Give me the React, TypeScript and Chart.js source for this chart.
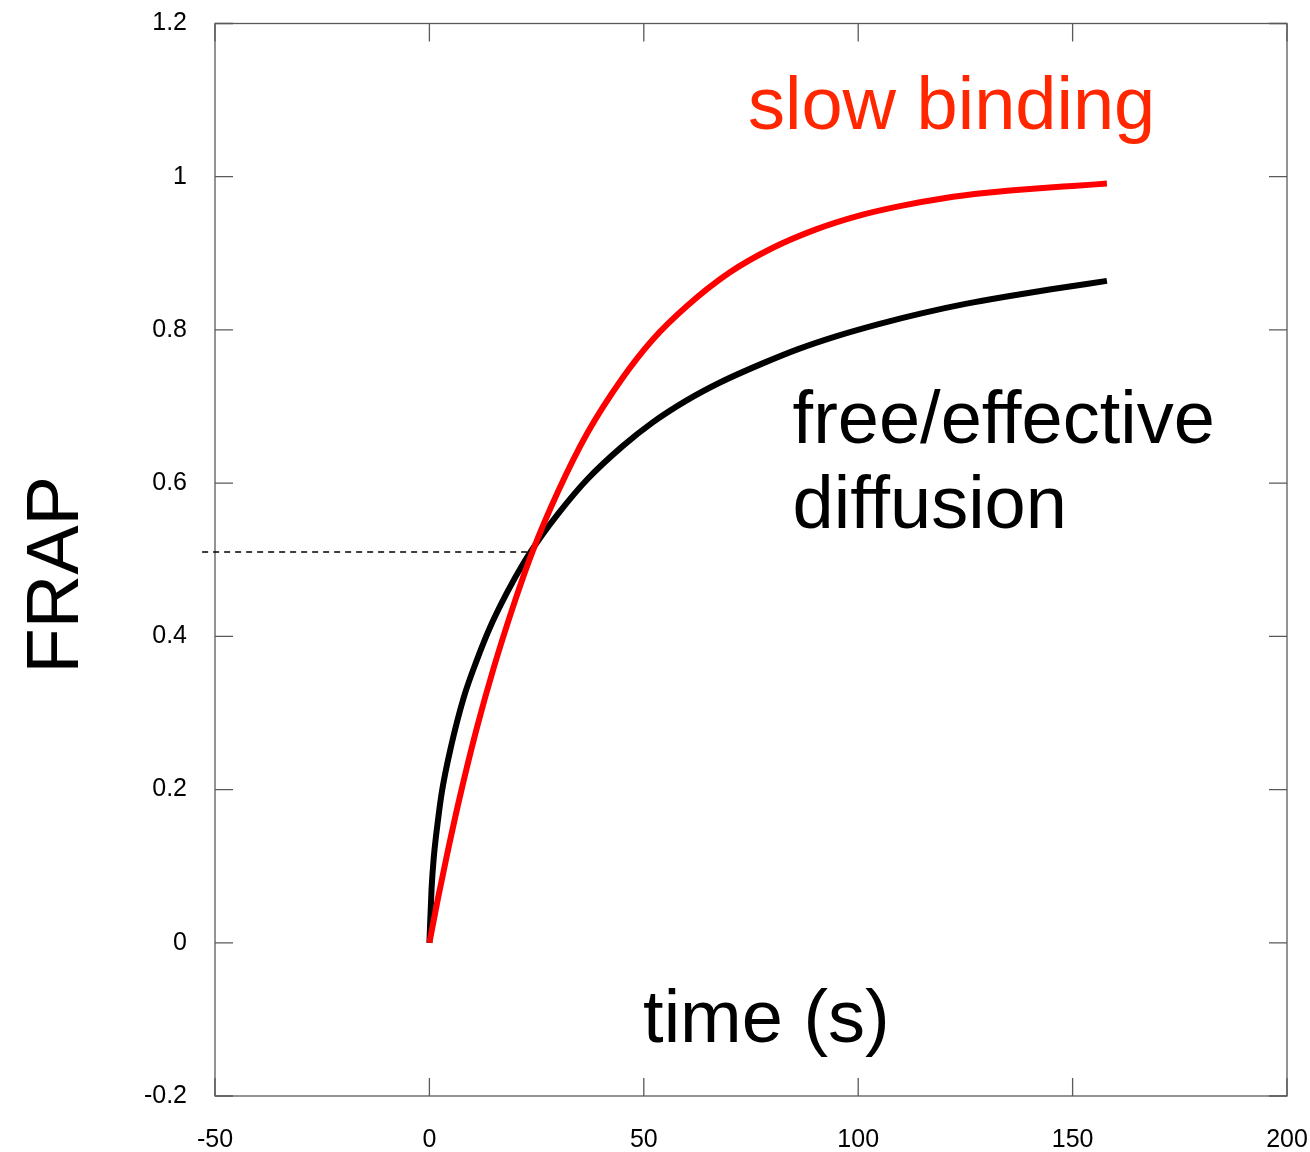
import React, { useEffect, useRef } from "react";
import { Chart, registerables } from "chart.js";

Chart.register(...registerables);

// ---- data ----
const redTimes = [0, 2, 4, 7, 11, 15, 20, 24, 30, 37, 45, 52, 60, 70, 80, 90, 100, 110, 120, 130, 140, 150, 158];
const redValues = [0, 0.058, 0.112, 0.188, 0.279, 0.359, 0.447, 0.51, 0.589, 0.667, 0.737, 0.787, 0.831, 0.875, 0.907, 0.931, 0.949, 0.962, 0.972, 0.979, 0.984, 0.988, 0.991];

const blackTimes = [0, 0.5, 1, 2, 3, 5, 8, 11, 14, 18, 22, 26, 30, 37, 45, 52, 60, 68, 78, 86, 95, 105, 115, 125, 135, 145, 158];
const blackValues = [0, 0.07, 0.11, 0.16, 0.2, 0.255, 0.32, 0.368, 0.41, 0.456, 0.496, 0.53, 0.56, 0.606, 0.648, 0.679, 0.708, 0.732, 0.757, 0.775, 0.792, 0.808, 0.822, 0.834, 0.844, 0.853, 0.864];

const halfTimes = [-53, 23];
const halfValues = [0.51, 0.51];

const xTicks = [-50, 0, 50, 100, 150, 200];
const xTickLabels = ["-50", "0", "50", "100", "150", "200"];
const yTicks = [-0.2, 0, 0.2, 0.4, 0.6, 0.8, 1, 1.2];
const yTickLabels = ["-0.2", "0", "0.2", "0.4", "0.6", "0.8", "1", "1.2"];

const slowLabel = "slow binding";
const freeLabel = ["free/effective", "diffusion"];
const xTitle = "time (s)";
const yTitle = "FRAP";

const FONT = '"Liberation Sans", Arial, Helvetica, sans-serif';

const framePlugin = {
  id: "frame",
  beforeDatasetsDraw(chart: any) {
    const { ctx, chartArea, scales } = chart;
    const { left, right, top, bottom } = chartArea;
    const x = scales.x;
    const y = scales.y;
    const L = 18;
    ctx.save();
    ctx.strokeStyle = "#5a5a5a";
    ctx.lineWidth = 1.3;
    ctx.strokeRect(left, top, right - left, bottom - top);
    ctx.beginPath();
    xTicks.forEach((v) => {
      const px = x.getPixelForValue(v);
      ctx.moveTo(px, bottom);
      ctx.lineTo(px, bottom - L);
      ctx.moveTo(px, top);
      ctx.lineTo(px, top + L);
    });
    yTicks.forEach((v) => {
      const py = y.getPixelForValue(v);
      ctx.moveTo(left, py);
      ctx.lineTo(left + L, py);
      ctx.moveTo(right, py);
      ctx.lineTo(right - L, py);
    });
    ctx.stroke();
    ctx.restore();
  },
};

const textPlugin = {
  id: "texts",
  afterDraw(chart: any) {
    const { ctx, scales } = chart;
    const x = scales.x;
    const y = scales.y;
    ctx.save();
    ctx.font = `74px ${FONT}`;
    ctx.textBaseline = "alphabetic";
    ctx.textAlign = "left";
    ctx.fillStyle = "#ff2600";
    ctx.fillText(slowLabel, x.getPixelForValue(74.3), y.getPixelForValue(1.062));
    ctx.fillStyle = "#000000";
    ctx.fillText(freeLabel[0], x.getPixelForValue(84.7), y.getPixelForValue(0.653));
    ctx.fillText(freeLabel[1], x.getPixelForValue(84.7), y.getPixelForValue(0.542));
    ctx.textAlign = "center";
    ctx.fillText(xTitle, x.getPixelForValue(78.6), y.getPixelForValue(-0.129));
    ctx.translate(78, (chart.chartArea.top + chart.chartArea.bottom) / 2 + 15);
    ctx.rotate(-Math.PI / 2);
    ctx.fillText(yTitle, 0, 0);
    ctx.restore();
  },
};

const zeroPad = (s: any) => {
  s.paddingLeft = 0;
  s.paddingRight = 0;
  s.paddingTop = 0;
  s.paddingBottom = 0;
};

export default function App() {
  const canvasRef = useRef<HTMLCanvasElement | null>(null);

  useEffect(() => {
    const canvas = canvasRef.current;
    if (!canvas) return;
    const tickFont = { family: FONT, size: 25 };
    const chart = new Chart(canvas, {
      type: "line",
      data: {
        datasets: [
          {
            label: "slow binding",
            data: redTimes.map((t, i) => ({ x: t, y: redValues[i] })),
            borderColor: "#ff0000",
            borderWidth: 6,
            pointRadius: 0,
            cubicInterpolationMode: "monotone",
            fill: false,
          },
          {
            label: "free/effective diffusion",
            data: blackTimes.map((t, i) => ({ x: t, y: blackValues[i] })),
            borderColor: "#000000",
            borderWidth: 6,
            pointRadius: 0,
            cubicInterpolationMode: "monotone",
            fill: false,
          },
          {
            label: "half",
            data: halfTimes.map((t, i) => ({ x: t, y: halfValues[i] })),
            borderColor: "#000000",
            borderWidth: 1.5,
            borderDash: [6, 5],
            pointRadius: 0,
            fill: false,
            clip: false as any,
          },
        ],
      },
      options: {
        animation: false,
        responsive: false,
        devicePixelRatio: 1,
        layout: { padding: { top: 23.5, right: 23, bottom: 0, left: 0 } },
        plugins: { legend: { display: false }, tooltip: { enabled: false } },
        scales: {
          x: {
            type: "linear",
            min: -50,
            max: 200,
            grid: { display: false, drawTicks: false },
            border: { display: false },
            afterBuildTicks: (s: any) => {
              s.ticks = xTicks.map((v) => ({ value: v }));
            },
            afterFit: (s: any) => {
              s.height = 56;
              zeroPad(s);
            },
            ticks: {
              padding: 29,
              color: "#000",
              font: tickFont,
              maxRotation: 0,
              autoSkip: false,
              callback: (_v: any, i: number) => xTickLabels[i],
            },
          },
          y: {
            type: "linear",
            min: -0.2,
            max: 1.2,
            grid: { display: false, drawTicks: false },
            border: { display: false },
            afterBuildTicks: (s: any) => {
              s.ticks = yTicks.map((v) => ({ value: v }));
            },
            afterFit: (s: any) => {
              s.width = 215;
              zeroPad(s);
            },
            ticks: {
              padding: 28,
              color: "#000",
              font: tickFont,
              autoSkip: false,
              callback: (_v: any, i: number) => yTickLabels[i],
            },
          },
        },
      } as any,
      plugins: [framePlugin, textPlugin],
    });
    return () => chart.destroy();
  }, []);

  return (
    <div style={{ position: "absolute", left: 0, top: 0, width: 1310, height: 1152, background: "#fff" }}>
      <canvas ref={canvasRef} width={1310} height={1152} style={{ display: "block" }} />
    </div>
  );
}
